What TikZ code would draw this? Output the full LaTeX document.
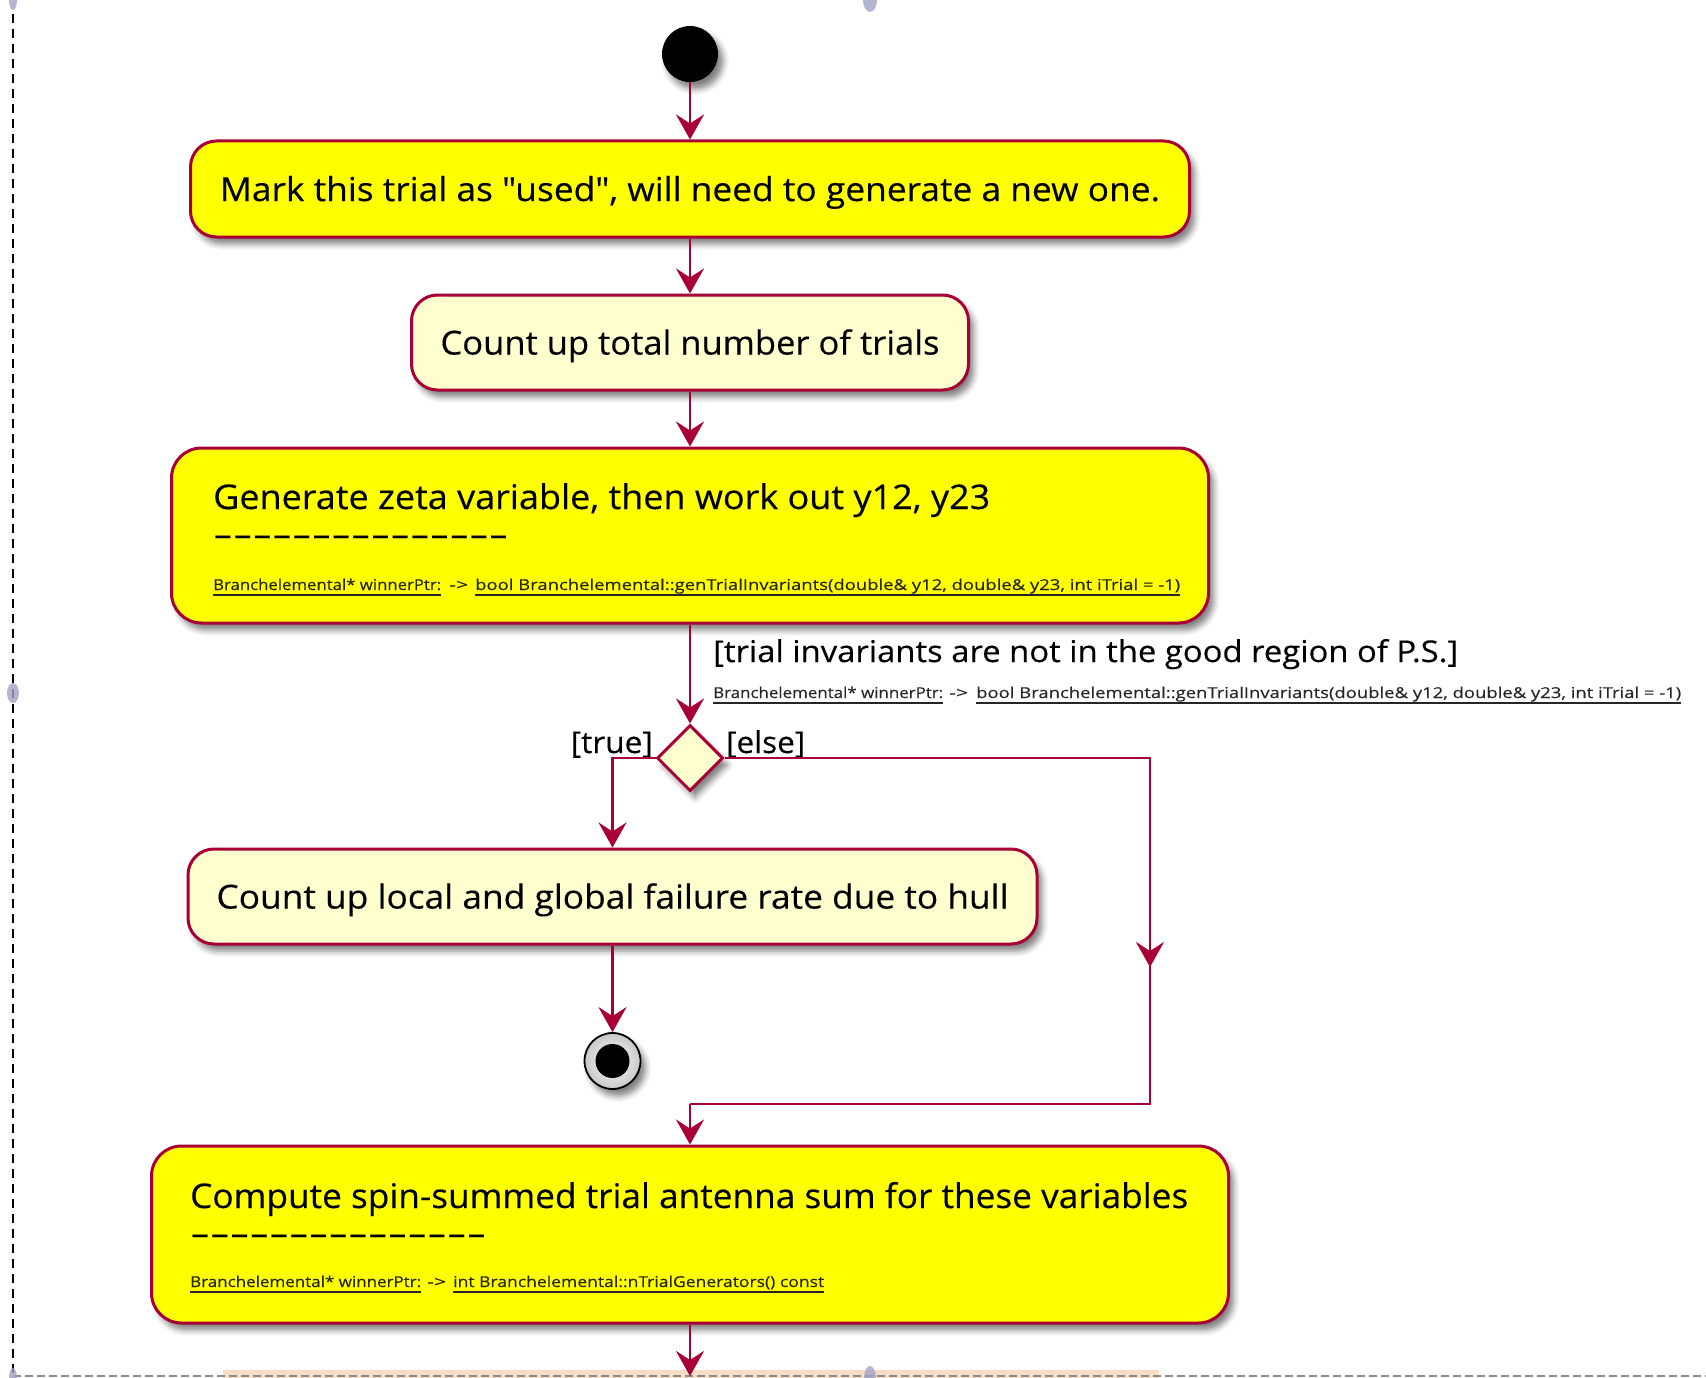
\documentclass[tikz,border=0pt]{standalone}
\usepackage{fontspec}
\setmainfont{Open Sans}[Ligatures=TeXOff,FakeBold=0.3]
\usetikzlibrary{arrows.meta,shadows.blur,shapes.geometric}

\definecolor{umlred}{HTML}{A80036}
\definecolor{umlyellow}{HTML}{FFFF00}
\definecolor{umlcream}{HTML}{FEFECE}
\definecolor{marker}{HTML}{A3A3C6}
\definecolor{peach}{HTML}{F6DEC6}
\definecolor{codeink}{HTML}{262600}

% scale a text horizontally to a given width (in pt), keeping its height
\newcommand\fitw[2]{\resizebox{#1pt}{\height}{#2}}
\newcommand\dashrow{-\kern0pt-\kern0pt-\kern0pt-\kern0pt-\kern0pt-\kern0pt-\kern0pt-\kern0pt-\kern0pt-\kern0pt-\kern0pt-\kern0pt-\kern0pt-\kern0pt-}

\begin{document}
\begin{tikzpicture}[x=1pt,y=-1pt,
  shadowed/.style={blur shadow={shadow xshift=5pt,shadow yshift=-7pt,shadow blur radius=6pt,shadow opacity=50}},
  actbox/.style={draw=umlred,line width=3pt,rounded corners=26pt,shadowed,inner sep=0pt,
    font=\fontsize{33}{40}\selectfont,text height=24pt,text depth=0pt},
  boxtitle/.style={inner sep=0pt,anchor=base west,font=\fontsize{34}{40}\selectfont},
  dashtext/.style={inner sep=0pt,anchor=base west,font=\fontsize{34}{40}\selectfont},
  codetext/.style={inner sep=0pt,anchor=base west,text=codeink,font=\fontsize{15}{18}\selectfont},
  guardtext/.style={inner sep=0pt,font=\fontsize{30}{36}\selectfont},
  uline/.style={draw=black!85,line width=2.6pt},
  wire/.style={draw=umlred,line width=2.8pt},
  flow/.style={wire,-{Stealth[length=25pt,width=28pt,inset=9pt]}},
  pagemark/.style={fill=marker,opacity=0.8}]
\useasboundingbox (0,0) rectangle (1706,1378);

% page frame of the export
\fill[peach] (223,1370) rectangle (1159,1378);
\draw[black,line width=2pt,dash pattern=on 9pt off 6pt] (13,14) -- (13,1378);
\draw[black!45,line width=1.5pt,dash pattern=on 8pt off 4pt] (13,1376) -- (1706,1376);
\fill[pagemark] (13,0) ellipse [x radius=4,y radius=10];
\fill[pagemark] (870,0) ellipse [x radius=7,y radius=12];
\fill[pagemark] (13,693) ellipse [x radius=6,y radius=10];
\fill[pagemark] (870,1378) ellipse [x radius=6,y radius=12];
\fill[pagemark] (13,1378) ellipse [x radius=4,y radius=10];

% start
\node[circle,fill=black,minimum size=56pt,inner sep=0pt,shadowed] (start) at (690,54) {};

% activities
\node[actbox,fill=umlyellow,minimum width=999pt,minimum height=96pt] (mark) at (690,189)
  {\fitw{940}{Mark this trial as "used", will need to generate a new one.}};
\node[actbox,fill=umlcream,minimum width=557pt,minimum height=95pt] (count) at (690,342.5)
  {\fitw{499}{Count up total number of trials}};
\node[actbox,fill=umlyellow,minimum width=1037pt,minimum height=175pt,rounded corners=30pt] (gen) at (690,535.5) {};
\node[boxtitle] (gentitle) at (213,509) {\fitw{777}{Generate zeta variable, then work out y12, y23}};
\node[dashtext] (gendash) at (213,546) {\fitw{295}{\dashrow}};
\node[codetext] (gencodea) at (213,590) {\fitw{228}{Branchelemental* winnerPtr:}};
\node[codetext] (gencodeb) at (449,590) {\fitw{19}{->}};
\node[codetext] (gencodec) at (475,590) {\fitw{705}{bool Branchelemental::genTrialInvariants(double\& y12, double\& y23, int iTrial = -1)}};
\draw[uline] ([yshift=-5pt]gencodea.base west) -- ([yshift=-5pt]gencodea.base east);
\draw[uline] ([yshift=-5pt]gencodec.base west) -- ([yshift=-5pt]gencodec.base east);

% decision
\node[diamond,aspect=1,draw=umlred,line width=3pt,fill=umlcream,minimum size=66pt,inner sep=0pt,shadowed] (choice) at (690,758) {};
\node[guardtext,anchor=base west] (guard) at (713,662) {\fitw{745}{[trial invariants are not in the good region of P.S.]}};
\node[codetext,text=black!85] (guardcodea) at (713,698) {\fitw{230}{Branchelemental* winnerPtr:}};
\node[codetext,text=black!85] (guardcodeb) at (949,698) {\fitw{19}{->}};
\node[codetext,text=black!85] (guardcodec) at (976,698) {\fitw{705}{bool Branchelemental::genTrialInvariants(double\& y12, double\& y23, int iTrial = -1)}};
\draw[uline] ([yshift=-5pt]guardcodea.base west) -- ([yshift=-5pt]guardcodea.base east);
\draw[uline] ([yshift=-5pt]guardcodec.base west) -- ([yshift=-5pt]guardcodec.base east);
\node[guardtext,anchor=base east] (truelbl) at (653,753) {\fitw{82}{[true]}};
\node[guardtext,anchor=base west] (elselbl) at (726,753) {\fitw{79}{[else]}};

\node[actbox,fill=umlcream,minimum width=849pt,minimum height=95pt] (fail) at (612.5,896.5)
  {\fitw{792}{Count up local and global failure rate due to hull}};

% stop
\node[circle,draw=black,line width=1.8pt,inner color=white,outer color=black!22,minimum size=56pt,inner sep=0pt,shadowed] (stop) at (612.5,1061) {};
\node[circle,fill=black,minimum size=34pt,inner sep=0pt] (stopcore) at (stop) {};

\node[actbox,fill=umlyellow,minimum width=1077pt,minimum height=177pt,rounded corners=30pt] (comp) at (690,1234.5) {};
\node[boxtitle] (comptitle) at (190,1208) {\fitw{998}{Compute spin-summed trial antenna sum for these variables}};
\node[dashtext] (compdash) at (190,1245) {\fitw{296}{\dashrow}};
\node[codetext] (compcodea) at (190,1287) {\fitw{231}{Branchelemental* winnerPtr:}};
\node[codetext] (compcodeb) at (427,1287) {\fitw{19}{->}};
\node[codetext] (compcodec) at (453,1287) {\fitw{371}{int Branchelemental::nTrialGenerators() const}};
\draw[uline] ([yshift=-5pt]compcodea.base west) -- ([yshift=-5pt]compcodea.base east);
\draw[uline] ([yshift=-5pt]compcodec.base west) -- ([yshift=-5pt]compcodec.base east);

% connectors
\coordinate (elsecorner) at (1150,758);
\coordinate (elsemid) at (1150,967);
\coordinate (elsebottom) at (1150,1104);
\coordinate (merge) at (690,1104);
\coordinate (exit) at (690,1376);

\draw[flow] (start) -- (mark);
\draw[flow] (mark) -- (count);
\draw[flow] (count) -- (gen);
\draw[flow] (gen) -- (choice);
\draw[flow] (choice.west) -| (fail.north);
\draw[wire] (choice.east) -- (elsecorner) -- (elsebottom) -- (merge);
\draw[flow] (elsecorner) -- (elsemid);
\draw[flow] (merge) -- (comp.north);
\draw[flow] (fail) -- (stop);
\draw[flow] (comp) -- (exit);
\end{tikzpicture}
\end{document}
